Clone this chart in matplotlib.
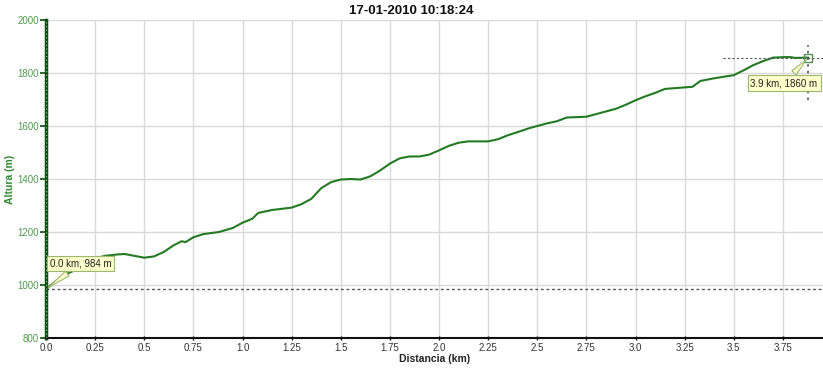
import matplotlib
matplotlib.use("Agg")
import matplotlib.pyplot as plt
import numpy as np

# perfil de altura (km, m)
distancia = [0.0, 0.05, 0.1, 0.16, 0.2, 0.25, 0.3, 0.36, 0.4, 0.45, 0.5, 0.55, 0.6,
             0.65, 0.69, 0.71, 0.75, 0.8, 0.88, 0.95, 1.0, 1.05, 1.08, 1.15, 1.25,
             1.3, 1.35, 1.4, 1.45, 1.5, 1.55, 1.6, 1.65, 1.7, 1.75, 1.8, 1.85, 1.9,
             1.95, 2.0, 2.05, 2.1, 2.15, 2.25, 2.3, 2.35, 2.4, 2.46, 2.5, 2.55, 2.6,
             2.65, 2.75, 2.8, 2.85, 2.9, 2.95, 3.0, 3.05, 3.1, 3.15, 3.29, 3.33, 3.4,
             3.5, 3.55, 3.6, 3.65, 3.7, 3.76, 3.79, 3.81, 3.88]
altura = [984, 1015, 1040, 1060, 1080, 1100, 1110, 1115, 1117, 1110, 1103, 1108, 1125,
          1150, 1165, 1162, 1180, 1192, 1200, 1215, 1235, 1250, 1272, 1283, 1292,
          1305, 1325, 1365, 1388, 1398, 1400, 1398, 1410, 1432, 1458, 1478, 1485, 1485,
          1492, 1508, 1525, 1537, 1542, 1542, 1550, 1565, 1577, 1592, 1600, 1610, 1618,
          1632, 1635, 1645, 1655, 1665, 1680, 1697, 1712, 1725, 1740, 1748, 1770, 1780,
          1792, 1810, 1830, 1845, 1858, 1860, 1860, 1857, 1858]

titulo = "17-01-2010 10:18:24"
xticks = [0.0, 0.25, 0.5, 0.75, 1.0, 1.25, 1.5, 1.75, 2.0, 2.25, 2.5, 2.75, 3.0, 3.25, 3.5, 3.75]
xtick_labels = ["0.0", "0.25", "0.5", "0.75", "1.0", "1.25", "1.5", "1.75", "2.0",
                "2.25", "2.5", "2.75", "3.0", "3.25", "3.5", "3.75"]
yticks = [800, 1000, 1200, 1400, 1600, 1800, 2000]

plt.rcParams['font.family'] = ['Liberation Sans', 'DejaVu Sans']

fig = plt.figure(figsize=(8.23, 3.72), dpi=100)
ax = fig.add_axes([46 / 823, 34 / 372, 777 / 823, 318 / 372])

ax.set_xlim(0, 3.954)
ax.set_ylim(800, 2000)

ax.set_xticks(xticks)
ax.set_xticklabels(xtick_labels)
ax.set_yticks(yticks)
ax.grid(True, color='#d9d9d9', linewidth=1)
ax.set_axisbelow(True)

# linea de altura inicial
ax.axhline(altura[0], color='#555555', linestyle=(0, (2, 2)), linewidth=1)

ax.plot(distancia, altura, color='#237a23', linewidth=1.5, solid_capstyle='round')

# cursor final
xf, yf = distancia[-1], altura[-1]
ax.plot([3.445, 3.954], [yf, yf], color='#555555', linestyle=(0, (2, 2)), linewidth=0.8)
ax.plot([xf, xf], [1698, 1906], color='#555555', linestyle=(0, (1.5, 2.5)), linewidth=1.2)
ax.plot([xf], [yf], marker='s', markersize=6, markerfacecolor='none',
        markeredgecolor='#5a8a5a', markeredgewidth=1)

caja = dict(boxstyle='square,pad=0.3', fc='#ffffcc', ec='#9ab870', lw=0.8)
flecha = dict(arrowstyle='wedge,tail_width=0.6,shrink_factor=0.5', fc='#ffffcc',
              ec='#9ab870', lw=0.8)
ax.annotate("0.0 km, 984 m", xy=(distancia[0], altura[0]), xytext=(0.02, 1062),
            fontsize=7, color='#222222', bbox=caja, arrowprops=flecha, va='bottom')
ax.annotate("3.9 km, 1860 m", xy=(xf, yf), xytext=(3.585, 1762),
            fontsize=7, color='#222222', bbox=caja, arrowprops=flecha, va='center')

# ejes
for s in ['top', 'right']:
    ax.spines[s].set_visible(False)
ax.spines['bottom'].set_color('#111111')
ax.spines['bottom'].set_linewidth(1.5)
ax.spines['left'].set_color('#0b4d0b')
ax.spines['left'].set_linewidth(2.5)
ax.axvline(0, color='#7acc7a', linestyle=(0, (1, 2)), linewidth=0.9, zorder=5)

ax.tick_params(axis='y', colors='#0b4d0b', labelcolor='#4f9a4f', labelsize=7,
               length=4, width=1.2, pad=1)
ax.tick_params(axis='x', colors='#111111', labelcolor='#333333', labelsize=7,
               length=3, width=1, direction='inout', pad=2)

ax.set_xlabel("Distancia (km)", fontsize=7.5, fontweight='bold', color='#222222', labelpad=1)
ax.set_ylabel("Altura (m)", fontsize=7.5, fontweight='bold', color='#2e8b2e', labelpad=2)
fig.text(411 / 823, 1 - 11 / 372, titulo, ha='center', va='center',
         fontsize=9.5, fontweight='bold', color='#111111')

fig.savefig("out.png", dpi=100)
